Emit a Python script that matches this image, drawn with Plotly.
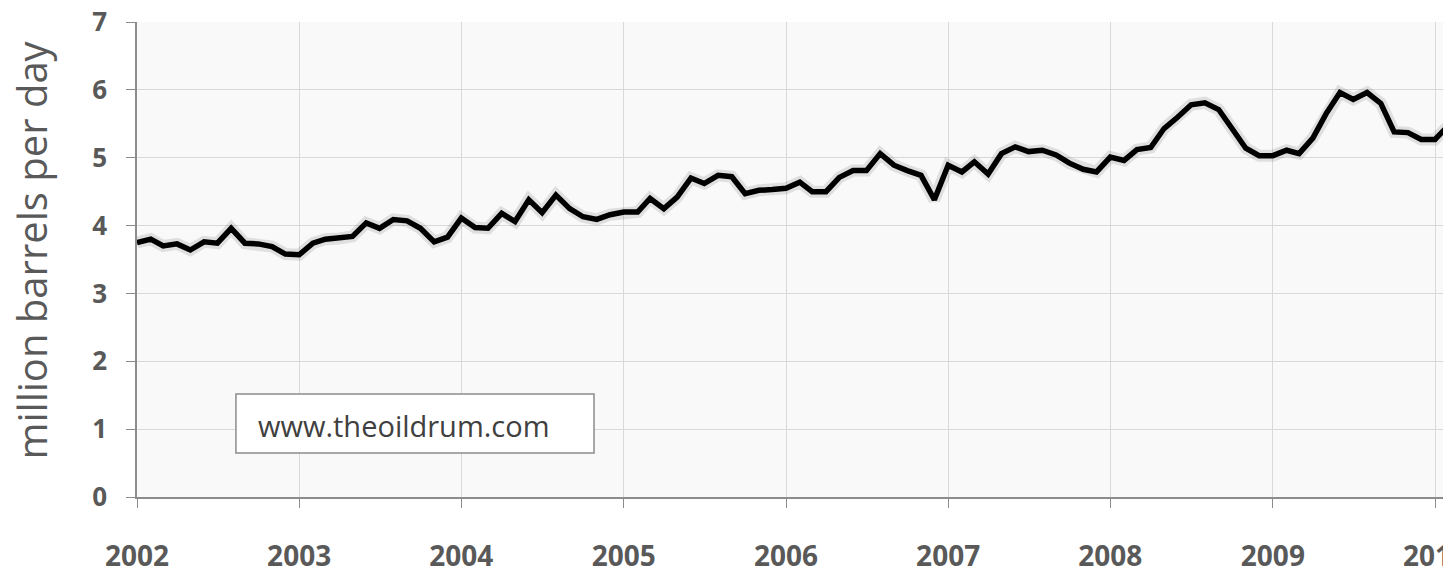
import plotly.graph_objects as go
import pandas as pd

# Monthly values, million barrels per day, Jan 2002 onward
values = [
    3.75, 3.80, 3.70, 3.73, 3.64, 3.76, 3.74, 3.96, 3.74, 3.73, 3.69, 3.58,   # 2002
    3.57, 3.74, 3.80, 3.81, 3.84, 4.04, 3.96, 4.09, 4.07, 3.96, 3.76, 3.83,   # 2003
    4.11, 3.97, 3.96, 4.18, 4.06, 4.38, 4.19, 4.45, 4.25, 4.13, 4.09, 4.16,   # 2004
    4.20, 4.20, 4.40, 4.25, 4.42, 4.70, 4.62, 4.74, 4.72, 4.47, 4.52, 4.53,   # 2005
    4.55, 4.64, 4.50, 4.50, 4.71, 4.81, 4.81, 5.06, 4.89, 4.81, 4.74, 4.38,   # 2006
    4.89, 4.79, 4.94, 4.76, 5.06, 5.16, 5.09, 5.11, 5.04, 4.92, 4.83, 4.79,   # 2007
    5.01, 4.96, 5.12, 5.15, 5.43, 5.60, 5.78, 5.81, 5.71, 5.43, 5.14, 5.03,   # 2008
    5.03, 5.11, 5.06, 5.29, 5.65, 5.96, 5.86, 5.96, 5.80, 5.38, 5.37, 5.27,   # 2009
    5.27, 5.48,                                                               # 2010
]
months = pd.date_range(start="2002-01-01", periods=len(values), freq="MS")
year_ticks = [f"{y}-01-01" for y in range(2002, 2011)]
year_labels = [str(y) for y in range(2002, 2011)]
y_ticks = [0, 1, 2, 3, 4, 5, 6, 7]
y_title = "million barrels per day"
watermark = "www.theoildrum.com"

fig = go.Figure()
fig.add_trace(go.Scatter(x=months, y=values, mode="lines",
                         line=dict(color="rgba(0,0,0,0.10)", width=12),
                         hoverinfo="skip", showlegend=False))
fig.add_trace(go.Scatter(x=months, y=values, mode="lines",
                         line=dict(color="#000000", width=5.5),
                         showlegend=False))

gray = "#595959"
axis_gray = "#8c8c8c"
fig.update_layout(
    width=1443, height=566,
    margin=dict(l=129, r=0, t=14, b=77),
    paper_bgcolor="white",
    plot_bgcolor="#f9f9f9",
    font=dict(family="Open Sans", color=gray),
    xaxis=dict(
        range=["2002-01-01", "2010-02-06"],
        tickmode="array", tickvals=year_ticks, ticktext=year_labels,
        showgrid=True, gridcolor="#d9d9d9", gridwidth=1,
        showline=True, linecolor=axis_gray, linewidth=1.5,
        ticks="outside", ticklen=9, tickcolor=axis_gray,
        tickfont=dict(family="Open Sans", size=28, color=gray, weight="bold"),
        ticklabelstandoff=25,
        ticklabeloverflow="allow",
        automargin=False,
        zeroline=False,
    ),
    yaxis=dict(
        range=[0, 7],
        tickmode="array", tickvals=y_ticks,
        showgrid=True, gridcolor="#d9d9d9", gridwidth=1,
        showline=True, linecolor=axis_gray, linewidth=1.5,
        ticks="outside", ticklen=9, tickcolor=axis_gray,
        tickfont=dict(family="Open Sans", size=26, color=gray, weight="bold"),
        ticklabelstandoff=14,
        ticklabeloverflow="allow",
        automargin=False,
        zeroline=False,
    ),
)

# y-axis title
fig.add_annotation(text=y_title, xref="paper", yref="paper",
                   x=-0.081, y=0.52, xanchor="center", yanchor="middle",
                   textangle=-90, showarrow=False,
                   font=dict(family="Open Sans", size=40, color=gray))

# watermark box
fig.add_shape(type="rect", xref="paper", yref="paper",
              x0=0.0753, x1=0.3478, y0=0.0926, y1=0.2168,
              line=dict(color=axis_gray, width=1.5), fillcolor="white", layer="above")
fig.add_annotation(text=watermark, xref="paper", yref="paper",
                   x=0.0905, y=0.1495, xanchor="left", yanchor="middle",
                   showarrow=False,
                   font=dict(family="Open Sans", size=29, color="#404040"))

fig.write_html("out.html")
